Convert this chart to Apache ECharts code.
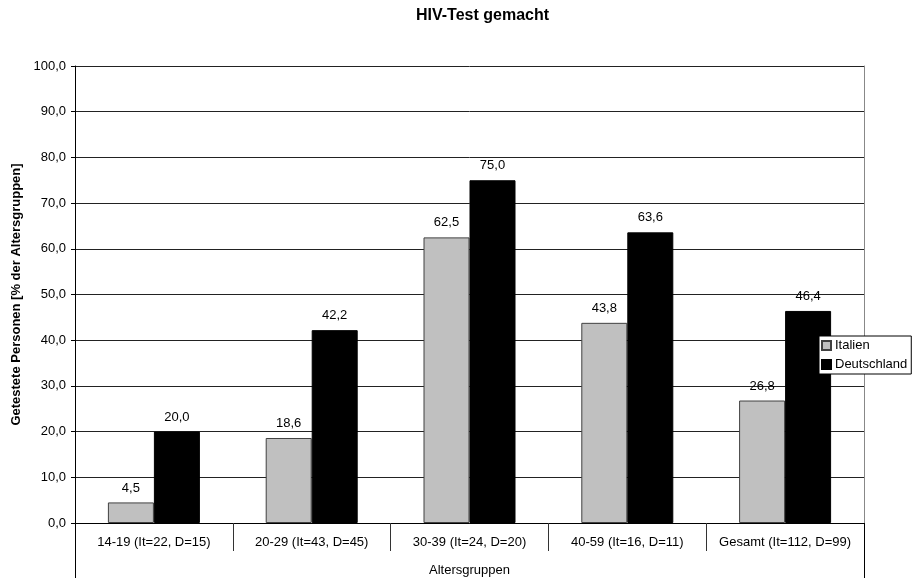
<!DOCTYPE html>
<html>
<head>
<meta charset="utf-8">
<script src="https://cdn.jsdelivr.net/npm/echarts@6/dist/echarts.min.js"></script>
<style>html,body{margin:0;padding:0;background:#fff}#c{width:912px;height:582px}</style>
</head>
<body>
<div id="c"></div>
<script>
const categories = ['14-19 (It=22, D=15)', '20-29 (It=43, D=45)', '30-39 (It=24, D=20)', '40-59 (It=16, D=11)', 'Gesamt (It=112, D=99)'];
const italien = [4.5, 18.6, 62.5, 43.8, 26.8];
const deutschland = [20.0, 42.2, 75.0, 63.6, 46.4];
const seriesNames = ['Italien', 'Deutschland'];

const FONT = '"Liberation Sans", Arial, sans-serif';
const fmt = v => v.toFixed(1).replace('.', ',');

const chart = echarts.init(document.getElementById('c'), null, {renderer: 'canvas'});
chart.setOption({
  animation: false,
  backgroundColor: '#fff',
  textStyle: {fontFamily: FONT, color: '#000'},
  title: {
    text: 'HIV-Test gemacht',
    left: 416, top: 8, padding: 0,
    textStyle: {fontFamily: FONT, fontSize: 16, fontWeight: 'bold', color: '#000'}
  },
  legend: {
    orient: 'vertical',
    left: 819, top: 336,
    padding: [3, 4, 3, 2],
    itemGap: 6,
    itemWidth: 9, itemHeight: 9,
    borderColor: '#000', borderWidth: 1,
    backgroundColor: '#fff',
    icon: 'rect',
    data: seriesNames,
    textStyle: {fontFamily: FONT, fontSize: 13, color: '#000', padding: [0, 0, 0, -1]}
  },
  grid: {left: 75, right: 48, top: 66, bottom: 54, containLabel: false},
  xAxis: [{
    type: 'category',
    data: categories,
    name: 'Altersgruppen',
    nameLocation: 'middle',
    nameGap: 41,
    nameTextStyle: {fontFamily: FONT, fontSize: 13, color: '#000'},
    axisLine: {show: true, lineStyle: {color: '#000', width: 1}},
    axisTick: {show: true, length: 28, interval: 0, alignWithLabel: false, lineStyle: {color: '#333'}},
    axisLabel: {margin: 13, fontFamily: FONT, fontSize: 13, color: '#000', interval: 0},
    splitLine: {show: false}
  }, {
    type: 'category',
    data: [''],
    position: 'bottom',
    axisLine: {show: false},
    axisTick: {show: true, length: 55, interval: 0, lineStyle: {color: '#000'}},
    axisLabel: {show: false},
    splitLine: {show: false}
  }],
  yAxis: [{
    type: 'value',
    min: 0, max: 100, interval: 10,
    name: 'Getestete Personen [% der Altersgruppen]',
    nameLocation: 'middle',
    nameGap: 51,
    nameTextStyle: {fontFamily: FONT, fontSize: 13, fontWeight: 'bold', color: '#000'},
    axisLine: {show: true, lineStyle: {color: '#000', width: 1}},
    axisTick: {show: true, length: 4, lineStyle: {color: '#000'}},
    axisLabel: {margin: 9, fontFamily: FONT, fontSize: 13, color: '#000', formatter: v => fmt(v)},
    splitLine: {show: true, lineStyle: {color: '#222', width: 1}}
  }, {
    type: 'value',
    min: 0, max: 100, interval: 10,
    position: 'right',
    axisLine: {show: true, lineStyle: {color: '#888', width: 1}},
    axisTick: {show: false},
    axisLabel: {show: false},
    splitLine: {show: false}
  }],
  series: [{
    name: seriesNames[0],
    type: 'bar',
    data: italien,
    barWidth: 46,
    barGap: '0%',
    itemStyle: {color: '#c0c0c0', borderColor: '#404040', borderWidth: 1},
    label: {show: true, position: 'top', distance: 8, fontFamily: FONT, fontSize: 13, color: '#000', formatter: p => fmt(p.value)}
  }, {
    name: seriesNames[1],
    type: 'bar',
    data: deutschland,
    barWidth: 46,
    barGap: '0%',
    itemStyle: {color: '#000', borderColor: '#000', borderWidth: 1},
    label: {show: true, position: 'top', distance: 8, fontFamily: FONT, fontSize: 13, color: '#000', formatter: p => fmt(p.value)}
  }]
});
</script>
</body>
</html>
